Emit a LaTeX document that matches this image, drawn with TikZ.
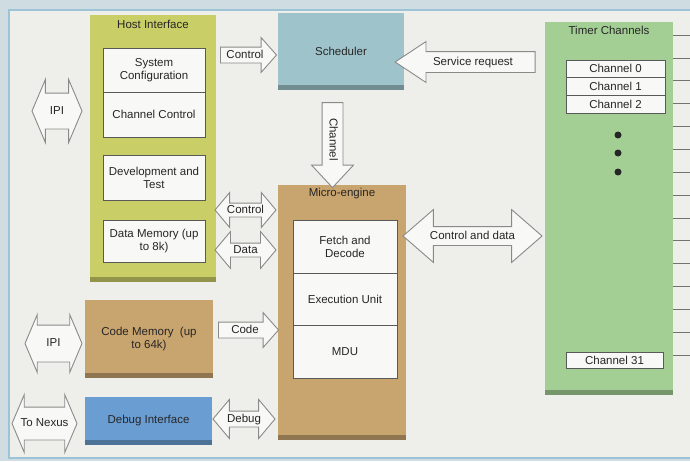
\documentclass[tikz,border=0pt]{standalone}
\usepackage{fontspec}
\setmainfont{Liberation Sans}
\usetikzlibrary{shapes.arrows}

\definecolor{paper}{HTML}{EEEEEA}
\definecolor{outer}{HTML}{CFDDE2}
\definecolor{frameblue}{HTML}{9CC3D6}
\definecolor{hostcol}{HTML}{C9CE66}
\definecolor{schedcol}{HTML}{9FC3CB}
\definecolor{microcol}{HTML}{C8A46F}
\definecolor{timercol}{HTML}{A3CF95}
\definecolor{debugcol}{HTML}{6A9ED3}
\definecolor{cellfill}{HTML}{F8F8F6}
\definecolor{arrowline}{HTML}{8A8A88}

\newcommand{\zw}[1]{\makebox[0pt]{#1}}

\tikzset{
  every node/.style={font=\fontsize{11.5}{13}\selectfont, text=black!85},
  block/.style={fill=#1, inner sep=0pt,
    path picture={\fill[#1!72!black] (path picture bounding box.south west)
      rectangle ([yshift=5pt]path picture bounding box.south east);}},
  cell/.style={draw=black!65, fill=cellfill, align=center, inner sep=1pt, line width=0.6pt},
  fat/.style={draw=arrowline, fill=cellfill, line width=0.9pt,
    text height=8.5pt, text depth=2.5pt, inner xsep=1pt},
  dbl/.style={fat, double arrow},
  sgl/.style={fat, single arrow},
  tick/.style={draw=black!55, line width=0.7pt},
}

\begin{document}
\begin{tikzpicture}[x=1pt, y=-1pt]
  \useasboundingbox (0,0) rectangle (690,461);
  \fill[outer] (0,0) rectangle (690,461);
  \filldraw[fill=paper, draw=frameblue, line width=2.5pt] (9,10) rectangle (700,458);

  % host interface
  \node (host) at (153,148.5) [block=hostcol, minimum width=126pt, minimum height=267pt] {};
  \node (hosttitle) at (153,24) {Host Interface};
  \node (syscfg) at (154,70) [cell, minimum width=102pt, minimum height=44pt] {System\\Configuration};
  \node (chctl) at (154,114.5) [cell, minimum width=102pt, minimum height=45pt] {Channel Control};
  \node (devtest) at (154,177.5) [cell, minimum width=102pt, minimum height=45pt] {Development and\\Test};
  \node (datamem) at (154,241) [cell, minimum width=102pt, minimum height=42pt] {Data Memory (up\\to 8k)};

  % code memory and debug
  \node (codemem) at (149,339) [block=microcol, minimum width=128pt, minimum height=78pt, align=center] {Code Memory~~(up\\to 64k)};
  \node (debugif) at (148.5,421) [block=debugcol, minimum width=127pt, minimum height=48pt] {Debug Interface};

  % scheduler
  \node (sched) at (341,51.5) [block=schedcol, minimum width=126pt, minimum height=77pt] {Scheduler};

  % micro-engine
  \node (micro) at (342,312.5) [block=microcol, minimum width=128pt, minimum height=255pt] {};
  \node (microtitle) at (342,194) {Micro-engine};
  \node (fetch) at (345,246.5) [cell, minimum width=104pt, minimum height=53pt] {Fetch and\\Decode};
  \node (exec) at (345,299) [cell, minimum width=104pt, minimum height=52pt] {Execution Unit};
  \node (mdu) at (345,351.5) [cell, minimum width=104pt, minimum height=53pt] {MDU};

  % timer channels
  \node (timer) at (609,208.5) [block=timercol, minimum width=128pt, minimum height=373pt] {};
  \node (timertitle) at (609,30) {Timer Channels};
  \foreach \i/\y in {0/68.8, 1/86.5, 2/104.2}
    \node (ch\i) at (615.5,\y) [cell, minimum width=99pt, minimum height=17.7pt, inner sep=0pt] {Channel \i};
  \node (ch31) at (614.5,360) [cell, minimum width=97pt, minimum height=16pt, inner sep=0pt] {Channel 31};
  \foreach \i/\y in {1/135, 2/153, 3/172}
    \node (dot\i) at (618,\y) [circle, fill=black!85, inner sep=0pt, minimum size=7pt] {};
  \foreach \k in {0,...,14} {
    \coordinate (tk) at (0,{35+22.86*\k});
    \draw[tick] (timer.east |- tk) -- ++(20,0);
  }

  % fat arrows
  \node (ipiA) at (57,111) [dbl, minimum height=50pt, inner ysep=12pt,
    double arrow head extend=13.5pt, double arrow tip angle=134] {\zw{IPI}};
  \node (ipiB) at (53.5,343.5) [dbl, minimum height=57pt, inner ysep=12.5pt,
    double arrow head extend=10.5pt, double arrow tip angle=134] {\zw{IPI}};
  \node (nexus) at (44.5,423.5) [dbl, minimum height=65pt, inner ysep=10.5pt,
    double arrow head extend=12.5pt, double arrow tip angle=134] {\zw{To Nexus}};
  \node (ctlS) at (245,55) [sgl, minimum height=56pt, inner ysep=2pt,
    single arrow head extend=9.5pt, single arrow tip angle=97] {\zw{Control}};
  \node (ctlM) at (245.5,210) [dbl, minimum height=61pt, inner ysep=1pt,
    double arrow head extend=10.5pt, double arrow tip angle=100] {\zw{Control}};
  \node (dataM) at (245.5,250) [dbl, minimum height=61pt, inner ysep=1pt,
    double arrow head extend=11.5pt, double arrow tip angle=100] {\zw{Data}};
  \node (codeA) at (245,330) [sgl, minimum height=60pt, inner ysep=2pt,
    single arrow head extend=9.5pt, single arrow tip angle=97] {\zw{Code}};
  \node (debugA) at (244,419) [dbl, minimum height=62pt, inner ysep=2pt,
    double arrow head extend=11.5pt, double arrow tip angle=100] {\zw{Debug}};
  \node (svcreq) at (473,62) [sgl, shape border rotate=180, minimum height=140pt, inner ysep=4.5pt,
    single arrow head extend=10pt, single arrow tip angle=67] {\zw{Service request}};
  \node (chan) at (332.5,139.5) [sgl, rotate=-90, minimum height=85pt, inner ysep=4.5pt,
    single arrow head extend=10.5pt, single arrow tip angle=86] {\zw{Channel}};
  \node (ctldata) at (472.5,236) [dbl, minimum height=139pt, inner ysep=3.5pt,
    double arrow head extend=17pt, double arrow tip angle=82] {\zw{Control and data}};

\end{tikzpicture}
\end{document}
